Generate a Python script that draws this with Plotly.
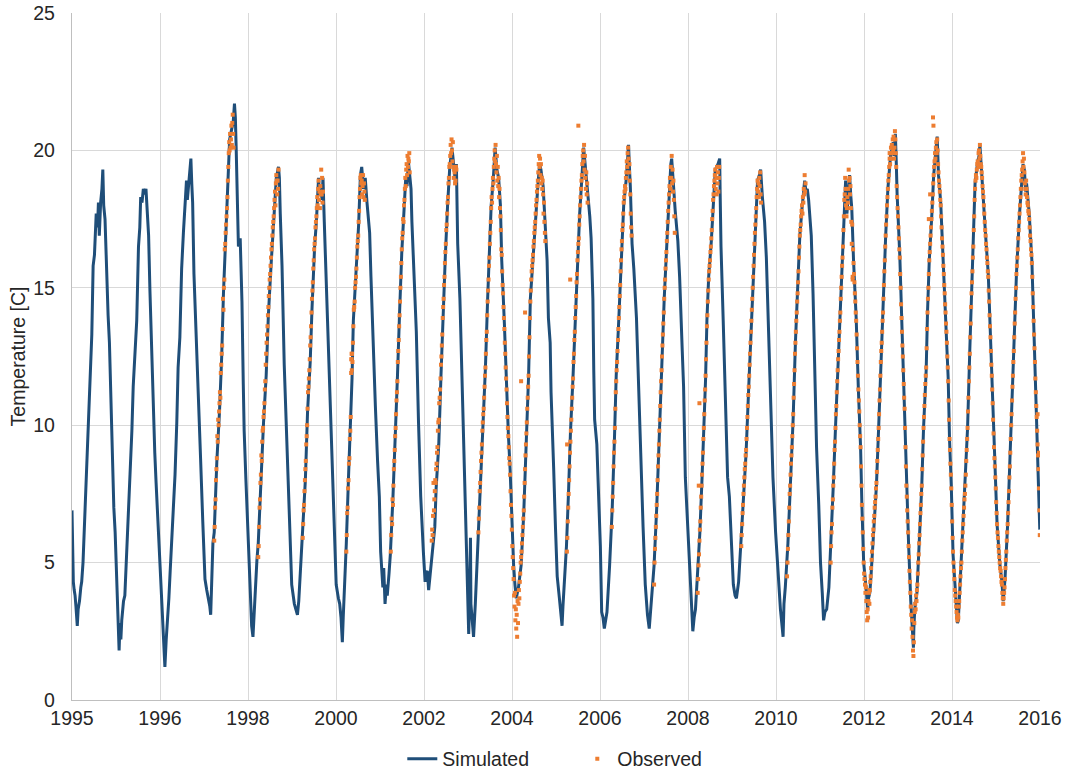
import plotly.graph_objects as go
from datetime import datetime, timedelta

# ---------------- DATA ----------------
x_tick_labels = ["1995", "1996", "1998", "2000", "2002", "2004", "2006",
                 "2008", "2010", "2012", "2014", "2016"]
y_ticks = [0, 5, 10, 15, 20, 25]

# Simulated temperature: (decimal year, temperature C)
sim_1995_1999 = [
    (1995.00, 6.9), (1995.01, 5.0), (1995.03, 4.3), (1995.05, 4.0), (1995.07, 3.8), (1995.09, 3.4),
    (1995.12, 2.7), (1995.14, 3.3), (1995.17, 3.6), (1995.20, 4.1), (1995.22, 4.3), (1995.25, 5.0),
    (1995.28, 6.3), (1995.30, 7.4), (1995.33, 8.3), (1995.37, 10.1), (1995.41, 11.5), (1995.45, 13.3),
    (1995.48, 15.8), (1995.51, 16.2), (1995.55, 17.7), (1995.58, 17.2), (1995.60, 18.1), (1995.62, 16.9),
    (1995.65, 18.1), (1995.68, 18.6), (1995.70, 19.3), (1995.72, 18.0), (1995.75, 17.5), (1995.79, 15.1),
    (1995.82, 14.0), (1995.85, 13.0), (1995.88, 11.1), (1995.92, 7.9), (1995.95, 7.0), (1995.98, 6.1),
    (1996.00, 5.0), (1996.02, 3.9), (1996.05, 2.6), (1996.07, 1.8), (1996.09, 2.8), (1996.11, 2.2),
    (1996.13, 2.9), (1996.17, 3.6), (1996.20, 3.8), (1996.24, 5.3), (1996.28, 6.6), (1996.32, 8.1),
    (1996.36, 9.8), (1996.39, 11.4), (1996.43, 12.8), (1996.47, 13.8), (1996.51, 16.5), (1996.54, 17.2),
    (1996.56, 18.3), (1996.59, 18.1), (1996.62, 18.6), (1996.65, 18.4), (1996.68, 18.6), (1996.71, 17.5),
    (1996.74, 16.9), (1996.77, 14.9), (1996.81, 12.7), (1996.85, 10.1), (1996.88, 9.0), (1996.91, 7.9),
    (1996.96, 6.3), (1997.00, 4.7), (1997.03, 3.8), (1997.06, 2.9), (1997.09, 2.0), (1997.11, 1.2),
    (1997.14, 2.2), (1997.17, 2.9), (1997.20, 3.7), (1997.23, 4.7), (1997.30, 6.7), (1997.34, 8.2),
    (1997.38, 10.1), (1997.41, 12.1), (1997.45, 13.2), (1997.49, 15.7), (1997.53, 17.0), (1997.57, 18.1),
    (1997.60, 18.9), (1997.62, 18.2), (1997.66, 19.0), (1997.70, 19.7), (1997.72, 18.8), (1997.74, 18.1),
    (1997.77, 15.5), (1997.82, 13.0), (1997.87, 10.8), (1997.92, 8.8), (1997.97, 6.5), (1998.02, 4.4),
    (1998.06, 4.0), (1998.10, 3.7), (1998.13, 3.4), (1998.15, 3.1), (1998.17, 4.2), (1998.20, 5.7),
    (1998.23, 6.1), (1998.26, 7.5), (1998.29, 8.7), (1998.35, 10.5), (1998.40, 12.5), (1998.44, 14.8),
    (1998.48, 16.5), (1998.53, 18.5), (1998.56, 19.4), (1998.58, 20.4), (1998.63, 20.8), (1998.66, 21.0),
    (1998.69, 21.7), (1998.71, 21.2), (1998.73, 20.0), (1998.76, 18.0), (1998.78, 16.5), (1998.82, 16.8),
    (1998.86, 14.5), (1998.89, 11.5), (1998.91, 9.8), (1998.95, 8.0), (1999.01, 5.8), (1999.05, 4.2),
    (1999.08, 2.7), (1999.11, 2.3), (1999.14, 3.4), (1999.17, 3.9), (1999.20, 5.1), (1999.23, 5.7),
    (1999.29, 8.0), (1999.35, 10.1), (1999.41, 11.8), (1999.46, 14.0), (1999.52, 15.8), (1999.58, 17.5),
    (1999.64, 19.0), (1999.69, 19.4), (1999.71, 19.0), (1999.73, 17.7), (1999.77, 15.8), (1999.82, 12.2),
    (1999.88, 9.4), (1999.94, 6.5), (1999.99, 4.2),
]
sim_2000_2004 = [
    (2000.05, 3.5), (2000.09, 3.3), (2000.12, 3.1), (2000.15, 3.6), (2000.18, 4.4), (2000.24, 6.2),
    (2000.30, 8.0), (2000.35, 10.5), (2000.41, 12.3), (2000.45, 14.2), (2000.48, 15.8), (2000.51, 16.5),
    (2000.55, 17.4), (2000.58, 18.3), (2000.60, 19.0), (2000.62, 18.4), (2000.65, 18.6), (2000.68, 18.2),
    (2000.70, 19.0), (2000.73, 17.4), (2000.77, 15.4), (2000.80, 14.0), (2000.83, 12.5), (2000.88, 9.4),
    (2000.94, 6.7), (2000.97, 5.3), (2001.00, 4.2), (2001.05, 3.7), (2001.08, 3.5), (2001.11, 3.0),
    (2001.14, 2.1), (2001.16, 3.0), (2001.18, 3.7), (2001.23, 5.7), (2001.28, 8.1), (2001.32, 9.8),
    (2001.36, 11.7), (2001.39, 13.8), (2001.45, 15.4), (2001.51, 17.3), (2001.55, 19.1), (2001.58, 19.4),
    (2001.62, 18.6), (2001.66, 19.0), (2001.70, 18.1), (2001.76, 17.0), (2001.79, 15.4), (2001.83, 13.3),
    (2001.89, 10.7), (2001.94, 8.7), (2001.98, 7.4), (2002.01, 5.4), (2002.06, 4.1), (2002.08, 4.8),
    (2002.11, 3.5), (2002.14, 4.2), (2002.16, 3.8), (2002.20, 4.6), (2002.23, 5.3), (2002.29, 7.4),
    (2002.34, 9.4), (2002.39, 11.7), (2002.44, 14.1), (2002.49, 16.3), (2002.55, 18.1), (2002.58, 19.0),
    (2002.61, 18.7), (2002.64, 19.6), (2002.67, 19.1), (2002.70, 18.6), (2002.72, 17.4), (2002.75, 16.2),
    (2002.78, 15.0), (2002.82, 13.4), (2002.87, 10.1), (2002.92, 7.4), (2002.98, 5.4), (2003.02, 4.3),
    (2003.04, 4.6), (2003.07, 4.7), (2003.10, 4.0), (2003.12, 4.3), (2003.17, 5.1), (2003.21, 5.6),
    (2003.24, 6.3), (2003.27, 7.7), (2003.33, 9.3), (2003.38, 11.8), (2003.43, 14.2), (2003.48, 16.2),
    (2003.53, 18.0), (2003.58, 19.4), (2003.63, 20.1), (2003.65, 19.8), (2003.68, 19.4), (2003.71, 18.8),
    (2003.73, 19.5), (2003.76, 16.6), (2003.81, 14.6), (2003.84, 12.6), (2003.88, 10.4), (2003.91, 8.4),
    (2003.94, 6.6), (2003.97, 4.9), (2004.01, 2.4), (2004.03, 3.6), (2004.05, 5.9), (2004.06, 3.5),
    (2004.08, 3.1), (2004.10, 2.4), (2004.12, 2.3), (2004.16, 3.5), (2004.20, 4.9), (2004.23, 6.3),
    (2004.27, 7.9), (2004.33, 10.0), (2004.39, 12.1), (2004.44, 14.6), (2004.48, 16.2), (2004.52, 18.0),
    (2004.57, 19.0), (2004.61, 20.1), (2004.65, 19.3), (2004.69, 19.0), (2004.73, 18.0), (2004.76, 16.0),
    (2004.82, 13.7), (2004.86, 11.8), (2004.91, 9.7), (2004.95, 8.4), (2004.99, 6.3),
]
sim_2005_2009 = [
    (2005.03, 4.9), (2005.06, 4.2), (2005.09, 3.7), (2005.14, 4.1), (2005.20, 4.9), (2005.26, 6.8),
    (2005.32, 9.7), (2005.37, 11.8), (2005.41, 14.6), (2005.47, 16.2), (2005.52, 17.3), (2005.58, 18.7),
    (2005.62, 19.5), (2005.65, 19.3), (2005.70, 18.7), (2005.75, 17.3), (2005.79, 16.0), (2005.82, 13.9),
    (2005.86, 13.0), (2005.88, 11.2), (2005.90, 10.4), (2005.94, 8.4), (2005.98, 6.3), (2006.02, 4.5),
    (2006.07, 3.7), (2006.10, 3.2), (2006.13, 2.7), (2006.15, 3.4), (2006.18, 4.2), (2006.23, 5.6),
    (2006.28, 7.7), (2006.32, 9.7), (2006.38, 11.8), (2006.43, 13.9), (2006.48, 16.0), (2006.53, 17.7),
    (2006.58, 19.0), (2006.62, 20.1), (2006.66, 19.4), (2006.70, 18.7), (2006.76, 17.6), (2006.79, 16.8),
    (2006.83, 14.6), (2006.85, 12.0), (2006.87, 10.2), (2006.92, 9.3), (2006.96, 7.7), (2007.00, 5.6),
    (2007.03, 3.2), (2007.06, 3.0), (2007.09, 2.6), (2007.12, 3.0), (2007.15, 3.2), (2007.21, 4.9),
    (2007.27, 7.0), (2007.32, 9.5), (2007.36, 11.8), (2007.42, 13.9), (2007.47, 16.0), (2007.53, 18.0),
    (2007.59, 19.0), (2007.64, 20.2), (2007.66, 19.4), (2007.68, 18.7), (2007.72, 16.6), (2007.76, 15.7),
    (2007.82, 13.9), (2007.87, 11.1), (2007.91, 9.0), (2007.97, 6.3), (2008.02, 4.2), (2008.07, 3.1),
    (2008.11, 2.6), (2008.14, 3.2), (2008.17, 3.9), (2008.22, 4.9), (2008.28, 7.0), (2008.34, 9.7),
    (2008.40, 12.5), (2008.45, 14.6), (2008.51, 16.6), (2008.57, 18.7), (2008.60, 19.5), (2008.62, 19.7),
    (2008.65, 18.9), (2008.70, 17.8), (2008.76, 16.7), (2008.80, 15.4), (2008.86, 12.7), (2008.89, 11.4),
    (2008.93, 8.1), (2008.97, 6.7), (2009.01, 5.1), (2009.06, 3.4), (2009.10, 2.5), (2009.13, 3.0),
    (2009.16, 3.3), (2009.21, 4.7), (2009.26, 6.1), (2009.31, 8.1), (2009.35, 9.8), (2009.39, 11.7),
    (2009.42, 13.8), (2009.46, 15.4), (2009.52, 16.7), (2009.56, 18.1), (2009.61, 19.3), (2009.67, 19.5),
    (2009.71, 19.7), (2009.72, 18.5), (2009.74, 16.5), (2009.79, 13.8), (2009.84, 10.7), (2009.89, 8.1),
    (2009.93, 7.4), (2009.99, 5.4),
]
sim_2010_2016 = [
    (2010.02, 4.2), (2010.06, 3.8), (2010.09, 3.7), (2010.14, 4.3), (2010.19, 5.7), (2010.25, 7.4),
    (2010.31, 9.0), (2010.37, 11.4), (2010.42, 13.4), (2010.47, 15.4), (2010.52, 17.4), (2010.57, 18.9),
    (2010.61, 19.1), (2010.64, 19.3), (2010.68, 18.3), (2010.73, 17.4), (2010.77, 16.1), (2010.82, 13.4),
    (2010.86, 11.4), (2010.92, 8.1), (2010.98, 6.1), (2011.03, 4.7), (2011.09, 3.3), (2011.12, 2.8),
    (2011.15, 2.3), (2011.17, 3.5), (2011.20, 4.1), (2011.26, 5.7), (2011.32, 8.1), (2011.38, 10.3),
    (2011.43, 13.0), (2011.48, 14.8), (2011.53, 16.9), (2011.58, 17.9), (2011.64, 18.9), (2011.67, 18.5),
    (2011.70, 18.6), (2011.73, 18.2), (2011.79, 16.9), (2011.83, 14.8), (2011.86, 12.7), (2011.91, 9.2),
    (2011.96, 7.1), (2012.00, 5.0), (2012.04, 3.9), (2012.07, 2.9), (2012.10, 3.2), (2012.14, 3.3),
    (2012.19, 4.1), (2012.24, 5.7), (2012.29, 7.8), (2012.34, 9.9), (2012.39, 12.0), (2012.45, 14.1),
    (2012.51, 16.5), (2012.55, 18.5), (2012.57, 18.9), (2012.60, 17.7), (2012.63, 18.5), (2012.66, 19.1),
    (2012.69, 18.3), (2012.71, 17.9), (2012.75, 16.0), (2012.81, 13.9), (2012.86, 11.3), (2012.91, 9.2),
    (2012.94, 7.1), (2012.98, 5.0), (2013.04, 4.0), (2013.07, 3.3), (2013.09, 3.7), (2013.12, 3.9),
    (2013.15, 4.6), (2013.21, 6.4), (2013.27, 7.8), (2013.32, 9.9), (2013.38, 12.7), (2013.42, 14.1),
    (2013.48, 16.9), (2013.53, 18.6), (2013.59, 19.8), (2013.62, 20.0), (2013.65, 20.3), (2013.67, 19.8),
    (2013.70, 20.6), (2013.72, 19.6), (2013.74, 18.4), (2013.80, 16.2), (2013.85, 13.4), (2013.91, 10.6),
    (2013.95, 7.8), (2014.00, 5.7), (2014.05, 3.6), (2014.08, 2.7), (2014.11, 1.9), (2014.12, 2.6),
    (2014.14, 3.3), (2014.19, 3.9), (2014.24, 5.7), (2014.30, 7.8), (2014.34, 9.9), (2014.40, 12.0),
    (2014.43, 14.1), (2014.47, 16.0), (2014.53, 17.7), (2014.57, 19.1), (2014.61, 19.8), (2014.65, 20.5),
    (2014.68, 19.1), (2014.73, 18.1), (2014.78, 16.2), (2014.82, 14.8), (2014.86, 13.4), (2014.90, 11.7),
    (2014.93, 9.5), (2014.97, 7.8), (2015.01, 5.3), (2015.05, 4.1), (2015.09, 3.3), (2015.11, 2.8),
    (2015.13, 2.9), (2015.16, 3.9), (2015.20, 5.0), (2015.24, 6.4), (2015.29, 7.8), (2015.34, 9.9),
    (2015.39, 12.7), (2015.43, 14.8), (2015.47, 16.5), (2015.51, 18.8), (2015.57, 19.6), (2015.60, 19.8),
    (2015.62, 20.2), (2015.66, 19.3), (2015.70, 18.4), (2015.75, 16.9), (2015.81, 15.5), (2015.86, 13.2),
    (2015.90, 11.3), (2015.94, 9.2), (2015.98, 7.8), (2016.01, 6.4), (2016.07, 5.0), (2016.12, 4.3),
    (2016.15, 3.6), (2016.17, 3.9), (2016.19, 4.4), (2016.25, 6.4), (2016.30, 8.5), (2016.35, 10.9),
    (2016.40, 13.2), (2016.45, 15.5), (2016.52, 17.7), (2016.57, 19.1), (2016.60, 19.5), (2016.63, 19.3),
    (2016.66, 18.5), (2016.68, 18.8), (2016.74, 17.7), (2016.80, 16.0), (2016.85, 13.4), (2016.91, 10.6),
    (2016.95, 8.5), (2016.98, 6.2),
]

# Observed temperature: regular samples (every 0.01 yr) starting at the given decimal year
obs_step = 0.01
obs_1998_start, obs_1998 = 1998.23, [
    5.8, 6.3, 7.0, 7.3, 8.0, 8.4, 8.8, 9.6, 9.4, 10.2, 10.0, 10.5, 10.8, 11.2, 11.0, 11.9, 12.2, 12.6,
    12.9, 13.5, 14.6, 14.2, 15.0, 15.3, 16.4, 16.6, 17.0, 17.3, 17.6, 17.9, 18.3, 18.9, 19.4, 19.9,
    20.3, 20.0, 20.6, 20.1, 20.4, 20.9, 20.2, 21.0, 21.3, 20.6, 20.1]
obs_1999_start, obs_1999 = 1999.23, [
    5.2, 5.6, 6.3, 7.0, 7.3, 7.9, 8.2, 8.9, 8.7, 9.4, 9.8, 9.9, 10.3, 10.5, 10.8, 11.3, 11.6, 12.2,
    12.6, 13.0, 13.3, 13.6, 14.0, 14.3, 14.7, 15.0, 15.3, 15.5, 15.8, 16.1, 16.4, 16.6, 16.9, 17.2,
    17.4, 17.6, 17.9, 18.2, 18.5, 18.0, 18.8, 19.1, 18.9, 18.4, 18.9, 18.6, 19.3]
obs_2000_start, obs_2000 = 2000.24, [
    5.9, 6.4, 6.9, 7.1, 7.6, 8.0, 8.4, 8.7, 9.3, 9.6, 10.0, 10.6, 11.2, 11.4, 11.7, 12.0, 12.4, 12.9,
    13.2, 13.6, 14.1, 14.6, 14.9, 15.2, 15.7, 16.0, 16.4, 16.6, 16.8, 17.2, 17.4, 17.6, 17.9, 18.3,
    18.0, 18.6, 18.9, 18.2, 18.5, 17.9, 18.7, 18.4, 19.3, 18.4, 19.0, 18.1, 18.5]
obs_2001_start, obs_2001 = 2001.23, [
    5.4, 6.0, 6.8, 7.0, 7.7, 8.0, 8.6, 8.8, 9.5, 9.8, 10.3, 11.9, 12.4, 12.6, 12.3, 13.0, 13.6, 14.2,
    14.3, 14.5, 15.0, 15.2, 15.4, 15.7, 16.1, 16.5, 16.7, 16.9, 17.4, 17.8, 18.3, 18.6, 19.0, 19.1,
    18.8, 18.9, 18.4, 18.7, 19.1, 18.3, 18.8, 18.5, 18.2]
obs_2002_start, obs_2002 = 2002.24, [
    5.4, 6.0, 6.6, 6.4, 7.3, 7.1, 7.8, 8.4, 8.7, 9.1, 9.6, 9.9, 10.4, 10.9, 11.2, 11.6, 12.3, 12.7,
    13.1, 13.6, 14.0, 14.5, 15.0, 15.4, 15.9, 16.4, 16.8, 17.0, 17.5, 17.4, 18.0, 18.2, 18.6, 19.0,
    18.7, 19.3, 19.5, 19.1, 19.8, 19.4, 19.7, 19.6, 19.9, 19.2]
obs_2003_start, obs_2003 = 2003.17, [
    5.8, 6.2, 6.0, 6.7, 7.9, 6.9, 7.3, 7.6, 8.0, 7.9, 8.4, 8.6, 9.0, 9.2, 9.8, 10.1, 10.2, 10.8,
    11.0, 11.3, 11.7, 12.2, 12.5, 12.9, 13.3, 13.9, 14.3, 14.6, 15.1, 15.4, 15.9, 16.3, 16.6, 17.1,
    17.3, 17.7, 18.1, 18.3, 18.8, 19.0, 19.4, 19.5, 19.8, 20.2, 19.9, 20.4, 20.0, 19.6, 20.3, 19.4,
    19.0, 19.3, 19.2, 18.8, 18.9, 19.4, 19.3]
obs_2004_start, obs_2004 = 2004.23, [
    6.1, 6.6, 7.0, 7.6, 7.9, 8.3, 8.7, 9.0, 9.3, 9.8, 10.1, 10.4, 10.6, 11.0, 11.4, 11.8, 12.1, 12.6,
    13.1, 13.4, 14.0, 14.5, 14.9, 15.3, 15.8, 16.1, 16.6, 17.0, 17.4, 17.9, 18.3, 18.1, 18.6, 19.0,
    18.8, 19.4, 19.7, 20.0, 19.6, 20.2, 19.5, 19.2, 19.8, 18.9, 19.4, 18.7, 19.0, 18.3, 18.6, 17.9,
    17.6, 17.1, 16.4, 16.2, 15.6, 15.1, 14.8, 14.3, 13.9, 13.5, 13.0, 12.6, 12.1, 11.7, 11.3, 10.8,
    10.3, 9.9, 9.6, 9.2, 8.8, 8.6, 8.2, 7.6, 7.1, 6.7, 6.2,
    5.6, 5.2, 4.8, 4.4, 3.8, 3.4, 3.9, 2.9, 3.3, 2.6, 3.1, 2.3, 3.6, 2.8, 3.5, 4.0, 3.7, 4.3, 4.6, 5.0,
    5.2, 5.4, 5.7, 6.0, 6.3, 6.6, 6.9, 7.4, 7.9, 8.4, 8.9, 9.3, 9.7, 10.1, 10.6, 11.0, 11.4, 11.8,
    12.5, 13.2, 13.9, 14.5, 14.9, 15.3, 15.6, 15.8, 16.0, 16.2, 16.5, 16.7, 17.0, 17.2, 17.4, 17.7,
    18.0, 18.2, 18.5, 18.7, 18.9, 19.2, 19.5, 19.8, 19.4, 19.7, 19.1, 19.5, 18.8, 19.0, 18.6, 18.9,
    18.4, 17.7, 18.1, 17.4, 17.0, 16.7]
obs_2006_start, obs_2006 = 2006.24, [
    5.4, 5.9, 6.5, 7.0, 7.5, 8.0, 8.5, 9.0, 9.4, 9.8, 10.2, 10.6, 11.0, 11.4, 11.7, 12.3, 12.6, 13.1,
    13.4, 13.9, 14.3, 14.7, 15.2, 15.5, 16.0, 16.3, 16.6, 16.8, 17.3, 17.6, 18.0, 18.3, 18.6, 18.9,
    19.1, 19.5, 19.8, 20.0, 19.6, 20.2, 19.3, 19.8, 19.0, 18.6, 19.2, 18.4, 18.8, 18.1]
obs_2007_start, obs_2007 = 2007.26, [
    6.3, 6.9, 7.4, 7.9, 8.5, 9.0, 9.4, 9.9, 10.6, 11.2, 11.6, 12.0, 12.3, 12.7, 13.1, 13.5, 13.9, 14.3,
    14.7, 15.1, 15.6, 16.0, 16.4, 16.7, 17.1, 17.3, 17.7, 18.1, 18.3, 18.5, 18.7, 18.6, 19.0, 19.2,
    19.6, 19.4, 19.9, 20.1, 19.7, 19.2, 19.5, 18.9, 18.4, 17.7, 17.2, 16.9]
obs_2008_start, obs_2008 = 2008.22, [
    4.2, 5.0, 5.5, 5.9, 6.3, 6.7, 7.1, 7.5, 8.0, 8.5, 8.9, 9.3, 9.8, 10.2, 10.7, 11.2, 11.6, 12.0,
    12.5, 12.9, 13.3, 13.7, 14.1, 14.6, 15.0, 15.3, 15.7, 16.0, 16.3, 16.7, 17.0, 17.4, 17.8, 18.1,
    18.4, 18.7, 19.0, 18.6, 19.4, 19.0, 19.8, 18.8, 19.3, 18.5, 18.9, 18.2, 17.6, 17.0]
obs_2009_start, obs_2009 = 2009.21, [
    3.9, 4.4, 4.9, 5.3, 5.8, 6.2, 6.5, 7.0, 7.4, 7.8, 8.2, 8.6, 9.0, 9.5, 9.9, 10.4, 10.9, 11.3,
    11.8, 12.4, 13.0, 13.6, 14.0, 14.5, 14.9, 15.3, 15.6, 15.8, 16.0, 16.3, 16.5, 16.8, 17.1, 17.5,
    17.8, 18.2, 18.4, 18.7, 18.9, 19.1, 19.3, 18.6, 19.0, 18.4, 19.4, 18.8, 19.2, 18.5, 19.0, 19.4]
obs_2010_start, obs_2010 = 2010.20, [
    5.6, 6.0, 6.4, 6.8, 7.1, 7.5, 7.8, 8.1, 8.4, 8.6, 8.9, 9.1, 9.5, 9.9, 10.3, 10.7, 11.1, 11.4,
    11.8, 12.2, 12.6, 13.0, 13.4, 13.8, 14.2, 14.6, 15.0, 15.4, 15.8, 16.2, 16.6, 17.0, 17.3, 17.6,
    17.9, 18.3, 18.6, 18.9, 18.5, 18.8, 18.3, 19.0, 18.7, 19.2, 18.4, 18.1]
obs_2011_start, obs_2011 = 2011.24, [
    4.5, 5.0, 5.5, 6.0, 6.5, 7.0, 7.5, 7.8, 8.2, 8.6, 8.9, 9.2, 9.6, 10.0, 10.4, 11.0, 11.5, 12.0,
    12.6, 13.0, 13.4, 13.8, 14.1, 14.5, 14.8, 15.2, 15.6, 16.1, 16.5, 16.9, 17.1, 17.3, 17.6, 17.8,
    18.0, 17.7, 18.3, 18.1, 18.6, 18.4, 19.1, 18.5, 18.8]
obs_2012_start, obs_2012 = 2012.23, [
    5.0, 5.6, 6.1, 6.4, 7.0, 7.3, 7.8, 8.1, 8.6, 9.1, 9.4, 9.9, 10.4, 10.7, 11.2, 11.6, 12.0, 12.4,
    12.7, 13.1, 13.4, 13.8, 14.1, 14.6, 15.0, 15.4, 15.8, 16.1, 16.5, 17.1, 17.6, 18.2, 18.4, 19.0,
    18.6, 18.0, 17.6, 17.9, 18.3, 18.1, 18.6, 19.3, 18.9, 19.0, 18.4, 18.7, 17.9, 17.4, 16.6, 17.3,
    15.4, 16.4, 15.9, 15.5, 15.2, 14.8, 14.5, 14.1, 13.8, 13.3, 12.8, 12.3, 11.8, 11.3, 10.9, 10.5,
    10.0, 9.6, 9.2, 8.5, 7.8, 7.1, 6.6, 6.1, 5.5, 5.0, 4.6]
obs_2013_start, obs_2013 = 2013.00, [
    4.4, 4.2, 3.9, 4.1, 3.6, 3.2, 2.9, 3.3, 3.0, 3.6, 3.9, 3.5, 4.0, 4.3, 4.5, 4.8, 5.1, 5.4, 5.7, 6.0,
    6.2, 6.5, 6.7, 7.0, 7.2, 7.4, 7.7, 7.9, 8.3, 8.7, 9.1, 9.5, 9.9, 10.4, 10.9, 11.3, 11.8, 12.3,
    12.7, 13.0, 13.4, 13.8, 14.1, 14.6, 15.1, 15.6, 16.0, 16.5, 16.9, 17.3, 17.6, 18.0, 18.3, 18.6,
    18.9, 19.1, 19.4, 19.7, 19.5, 19.9, 20.1, 19.7, 20.2, 19.9, 20.4, 20.0, 20.5, 19.7, 20.1, 20.7,
    20.4, 19.9, 19.4, 18.7, 18.3, 17.9, 17.6, 17.2, 16.8, 16.4, 16.1, 15.5, 15.0, 14.4, 13.9, 13.4,
    12.9, 12.5, 12.0, 11.5, 11.0, 10.6, 9.9, 9.2, 8.5, 7.8, 7.4, 6.9, 6.5, 6.1]
obs_2014_start, obs_2014 = 2014.00, [
    5.6, 5.2, 4.7, 4.3, 3.9, 3.4, 3.1, 2.6, 2.9, 2.3, 1.8, 1.6, 2.1, 2.8, 3.2, 3.5, 3.3, 3.8, 3.6, 4.0,
    4.2, 4.6, 5.0, 5.3, 5.7, 6.0, 6.4, 6.8, 7.1, 7.5, 7.8, 8.4, 8.9, 9.4, 9.9, 10.3, 10.7, 11.1,
    11.5, 11.8, 12.1, 12.8, 13.5, 14.1, 14.6, 15.0, 15.5, 16.0, 16.3, 16.6, 16.9, 17.2, 17.5, 17.8,
    18.1, 18.4, 18.8, 19.1, 19.4, 19.6, 19.9, 19.7, 20.1, 20.3, 19.9, 20.4, 20.0, 19.5, 19.2, 18.9,
    18.7, 18.5, 18.2, 18.0, 17.6, 17.2, 16.8, 16.5, 16.2, 15.8, 15.5, 15.1, 14.8, 14.4, 14.1, 13.7,
    13.4, 13.0, 12.5, 12.1, 11.6, 10.9, 10.2, 9.5, 9.1, 8.6, 8.2, 7.7, 7.1, 6.5]
obs_2015_start, obs_2015 = 2015.00, [
    5.9, 5.4, 5.0, 4.7, 4.4, 4.0, 3.8, 3.6, 3.4, 3.2, 3.0, 2.9, 3.1, 3.0, 3.4, 3.6, 3.9, 4.2, 4.5, 4.8,
    5.0, 5.4, 5.8, 6.1, 6.4, 6.7, 7.0, 7.3, 7.5, 7.8, 8.2, 8.7, 9.1, 9.5, 9.9, 10.5, 11.0, 11.6,
    12.1, 12.6, 13.2, 13.7, 14.3, 14.8, 15.2, 15.6, 16.1, 16.5, 17.1, 17.6, 18.2, 18.6, 18.9, 19.1,
    19.0, 19.3, 19.5, 19.6, 19.4, 19.9, 20.0, 19.7, 20.2, 19.8, 19.5, 19.4, 19.2, 19.0, 18.7, 18.5,
    18.3, 18.0, 17.7, 17.4, 17.1, 16.9, 16.6, 16.4, 16.1, 15.9, 15.6, 15.4, 14.9, 14.5, 14.0, 13.6,
    13.2, 12.7, 12.2, 11.8, 11.3, 10.8, 10.2, 9.7, 9.2, 8.8, 8.5, 8.1, 7.7, 7.2]
obs_2016_start, obs_2016 = 2016.00, [
    6.8, 6.4, 6.1, 5.9, 5.6, 5.4, 5.2, 5.0, 4.8, 4.7, 4.5, 4.3, 4.2, 3.9, 3.7, 3.5, 3.7, 3.9, 4.1, 4.4,
    4.8, 5.1, 5.4, 5.8, 6.1, 6.4, 6.8, 7.2, 7.6, 8.1, 8.5, 9.0, 9.5, 10.0, 10.4, 10.9, 11.4, 11.8,
    12.3, 12.7, 13.2, 13.7, 14.1, 14.6, 15.0, 15.5, 15.8, 16.1, 16.4, 16.8, 17.1, 17.4, 17.7, 18.0,
    18.3, 18.6, 18.9, 19.1, 19.3, 19.6, 19.9, 19.4, 19.7, 19.2, 18.8, 18.6, 18.4, 18.9, 18.6, 18.3,
    18.1, 18.0, 17.8, 17.7, 17.5, 17.2, 16.9, 16.7, 16.4, 16.2, 15.9, 15.4, 14.8, 14.3, 13.8, 13.3,
    12.8, 12.3, 11.7, 11.2, 10.7, 10.3, 9.8, 9.3, 8.9, 8.4, 7.7, 6.9, 6.0]

# Observed outliers (decimal year, temperature C)
obs_extra = [
    (2001.345, 12.4), (2001.355, 12.0), (2001.35, 12.6), (2005.20, 11.6), (2005.29, 14.1),
    (2006.245, 9.3), (2006.315, 15.3), (2006.50, 20.9), (2009.235, 7.8), (2009.25, 10.8),
    (2012.73, 15.3), (2013.57, 19.9), (2014.46, 17.5), (2014.49, 18.4), (2014.555, 21.2),
    (2014.565, 20.9), (2016.93, 10.4), (2016.96, 9.0),
]

obs_segments = [
    (obs_1998_start, obs_1998), (obs_1999_start, obs_1999), (obs_2000_start, obs_2000),
    (obs_2001_start, obs_2001), (obs_2002_start, obs_2002), (obs_2003_start, obs_2003),
    (obs_2004_start, obs_2004), (obs_2006_start, obs_2006), (obs_2007_start, obs_2007),
    (obs_2008_start, obs_2008), (obs_2009_start, obs_2009), (obs_2010_start, obs_2010),
    (obs_2011_start, obs_2011), (obs_2012_start, obs_2012), (obs_2013_start, obs_2013),
    (obs_2014_start, obs_2014), (obs_2015_start, obs_2015), (obs_2016_start, obs_2016),
]

# ---------------- BUILD ----------------
BASE = datetime(1995, 1, 1)


def to_date(y):
    return BASE + timedelta(days=(y - 1995.0) * 365.25)


sim_all = sim_1995_1999 + sim_2000_2004 + sim_2005_2009 + sim_2010_2016
sim_x = [to_date(t) for t, _ in sim_all]
sim_y = [v for _, v in sim_all]

obs_x, obs_y = [], []
for start, vals in obs_segments:
    for i, v in enumerate(vals):
        obs_x.append(to_date(start + i * obs_step))
        obs_y.append(v)
for t, v in obs_extra:
    obs_x.append(to_date(t))
    obs_y.append(v)

tick_vals = [BASE + timedelta(days=730 * k) for k in range(len(x_tick_labels))]
x_end = BASE + timedelta(days=730 * (len(x_tick_labels) - 1))

FONT = "Liberation Sans, Arial, sans-serif"
TEXT = "#262626"
FS = 19.5

fig = go.Figure()
fig.add_trace(go.Scatter(
    x=sim_x, y=sim_y, mode="lines", name="Simulated",
    line=dict(color="#1F4E79", width=3),
))
fig.add_trace(go.Scatter(
    x=obs_x, y=obs_y, mode="markers", name="Observed",
    marker=dict(symbol="square", size=4, color="#ED7D31", line=dict(width=0)),
))

fig.update_layout(
    width=1066, height=774,
    margin=dict(l=72, r=26, t=13, b=74, autoexpand=False),
    paper_bgcolor="white", plot_bgcolor="white",
    font=dict(family=FONT, size=FS, color=TEXT),
    showlegend=True,
    legend=dict(orientation="h", x=0.522, xanchor="center", y=-0.086, yanchor="middle",
                font=dict(family=FONT, size=FS, color=TEXT), entrywidth=130,
                bgcolor="rgba(0,0,0,0)"),
    xaxis=dict(
        type="date", range=[BASE, x_end], automargin=False,
        tickmode="array", tickvals=tick_vals, ticktext=x_tick_labels,
        showgrid=True, gridcolor="#D9D9D9", gridwidth=1.3,
        showline=True, linecolor="#BFBFBF", linewidth=1.3,
        ticks="", ticklabelstandoff=0, zeroline=False,
        tickfont=dict(family=FONT, size=FS, color=TEXT),
    ),
    yaxis=dict(
        range=[0, 25], tickmode="array", tickvals=y_ticks, automargin=False,
        showgrid=True, gridcolor="#D9D9D9", gridwidth=1.3,
        showline=True, linecolor="#BFBFBF", linewidth=1.3,
        ticks="", ticklabelstandoff=12, zeroline=False,
        tickfont=dict(family=FONT, size=FS, color=TEXT),
        title=dict(text="Temperature [C]", standoff=2,
                   font=dict(family=FONT, size=FS, color=TEXT)),
    ),
)

fig.write_html("out.html", config={"displayModeBar": False},
               post_script="document.body.style.margin='0';")
